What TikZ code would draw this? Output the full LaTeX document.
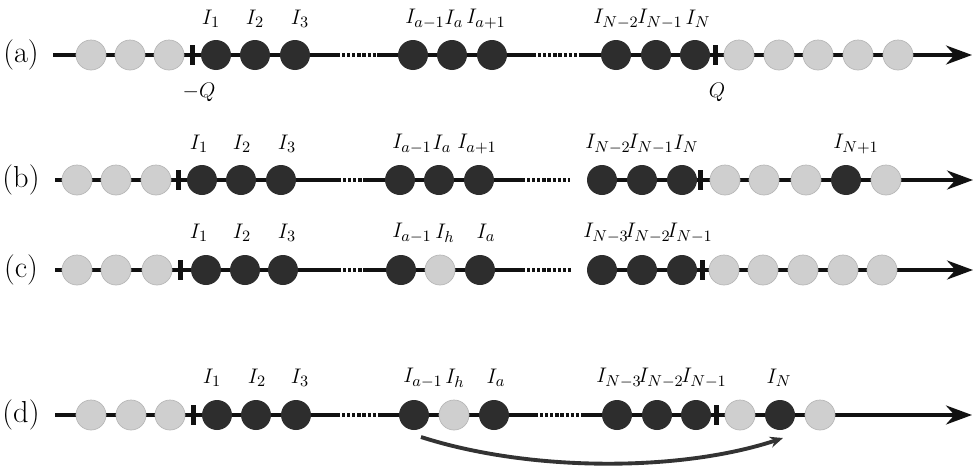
\documentclass[tikz,border=0pt]{standalone}
\usepackage{amsmath}
\usepackage{tikz}
\usetikzlibrary{positioning}
\usetikzlibrary{arrows.meta}

\definecolor{wirecol}{HTML}{111111}
\definecolor{occgray}{HTML}{2D2D2D}
\definecolor{holegray}{HTML}{CFCFCF}
\definecolor{holeedge}{HTML}{B8B8B8}
\definecolor{jumpcol}{HTML}{333333}

\begin{document}
\begin{tikzpicture}[x=0.02cm, y=-0.02cm,
		occ/.style = {circle, fill=occgray, minimum size=0.6cm, inner sep=0pt},
		emp/.style = {circle, fill=holegray, draw=holeedge, line width=0.4pt, minimum size=0.6cm, inner sep=0pt},
		wire/.style = {draw=wirecol, line width=2pt},
		axisline/.style = {wire, -{Stealth[length=0.52cm, width=0.38cm]}},
		dotline/.style = {wire, dash pattern=on 1.8pt off 1.1pt},
		fermi/.style = {fill=wirecol, minimum width=0.1cm, minimum height=0.4cm, inner sep=0pt},
		ilab/.style = {font=\fontsize{12.5}{14}\selectfont, inner sep=0pt},
		rowtag/.style = {font=\LARGE, inner sep=0pt}]
		\useasboundingbox (0,0) rectangle (974,467);
		% (a) ground state
		\coordinate (a-s) at (53,55);
		\coordinate (a-d1) at (337,55);
		\coordinate (a-d2) at (377,55);
		\coordinate (a-d3) at (533,55);
		\coordinate (a-d4) at (580,55);
		\coordinate (a-e) at (972,55);
		\draw[wire] (a-s) -- (a-d1);
		\draw[dotline] (a-d1) -- (a-d2);
		\draw[wire] (a-d2) -- (a-d3);
		\draw[dotline] (a-d3) -- (a-d4);
		\draw[axisline] (a-d4) -- (a-e);
		\foreach \x/\k [count=\i] in {91/emp,130/emp,169/emp,216/occ,255/occ,295/occ,413/occ,452/occ,492/occ,616/occ,656/occ,695/occ,739/emp,779/emp,818/emp,858/emp,898/emp}
			\node[\k] (a\i) at (\x,55) {};
		\node[fermi] (a-f1) at (192,55) {};
		\node[fermi] (a-f2) at (715,55) {};
		\foreach \x/\t [count=\i] in {211/1,255/2,300/3,425/a-1,454/a,486/a+1,616/N-2,660/N-1,698/N}
			\node[ilab] (a-l\i) at (\x,19) {$I_{\t}$};
		\node[ilab] (a-mq) at (199,92) {$-Q$};
		\node[ilab] (a-q) at (717,92) {$Q$};
		\node[rowtag] (a-tag) at (21,55) {(a)};
		% (b) particle excitation
		\coordinate (b-s) at (55,180);
		\coordinate (b-d1) at (338,180);
		\coordinate (b-d2) at (365,180);
		\coordinate (b-d3) at (522,180);
		\coordinate (b-d4) at (570,180);
		\coordinate (b-d5) at (587,180);
		\coordinate (b-e) at (973,180);
		\draw[wire] (b-s) -- (b-d1);
		\draw[dotline] (b-d1) -- (b-d2);
		\draw[wire] (b-d2) -- (b-d3);
		\draw[dotline] (b-d3) -- (b-d4);
		\draw[axisline] (b-d5) -- (b-e);
		\foreach \x/\k [count=\i] in {77/emp,116/emp,156/emp,202/occ,241/occ,281/occ,400/occ,439/occ,479/occ,602/occ,642/occ,682/occ,725/emp,764/emp,806/emp,846/occ,886/emp}
			\node[\k] (b\i) at (\x,180) {};
		\node[fermi] (b-f1) at (178,180) {};
		\node[fermi] (b-f2) at (700,180) {};
		\foreach \x/\t [count=\i] in {199/1,242/2,287/3,412/a-1,442/a,477/a+1,608/N-2,651/N-1,686/N,856/N+1}
			\node[ilab] (b-l\i) at (\x,144) {$I_{\t}$};
		\node[rowtag] (b-tag) at (21,180) {(b)};
		% (c) hole excitation
		\coordinate (c-s) at (55,270);
		\coordinate (c-d1) at (338,270);
		\coordinate (c-d2) at (365,270);
		\coordinate (c-d3) at (522,270);
		\coordinate (c-d4) at (571,270);
		\coordinate (c-d5) at (587,270);
		\coordinate (c-e) at (973,270);
		\draw[wire] (c-s) -- (c-d1);
		\draw[dotline] (c-d1) -- (c-d2);
		\draw[wire] (c-d2) -- (c-d3);
		\draw[dotline] (c-d3) -- (c-d4);
		\draw[axisline] (c-d5) -- (c-e);
		\foreach \x/\k [count=\i] in {77/emp,116/emp,157/emp,206/occ,245/occ,283/occ,401/occ,440/emp,480/occ,602/occ,642/occ,682/occ,724/emp,763/emp,803/emp,843/emp,882/emp}
			\node[\k] (c\i) at (\x,270) {};
		\node[fermi] (c-f1) at (180,270) {};
		\node[fermi] (c-f2) at (702,270) {};
		\foreach \x/\t [count=\i] in {199/1,242/2,287/3,412/a-1,445/h,486/a,606/N-3,648/N-2,690/N-1}
			\node[ilab] (c-l\i) at (\x,233) {$I_{\t}$};
		\node[rowtag] (c-tag) at (21,270) {(c)};
		% (d) particle-hole excitation
		\coordinate (d-s) at (55,415);
		\coordinate (d-d1) at (337,415);
		\coordinate (d-d2) at (378,415);
		\coordinate (d-d3) at (535,415);
		\coordinate (d-d4) at (583,415);
		\coordinate (d-e) at (972,415);
		\draw[wire] (d-s) -- (d-d1);
		\draw[dotline] (d-d1) -- (d-d2);
		\draw[wire] (d-d2) -- (d-d3);
		\draw[dotline] (d-d3) -- (d-d4);
		\draw[axisline] (d-d4) -- (d-e);
		\foreach \x/\k [count=\i] in {91/emp,131/emp,170/emp,217/occ,256/occ,296/occ,414/occ,454/emp,494/occ,617/occ,657/occ,696/occ,740/emp,780/occ,820/emp}
			\node[\k] (d\i) at (\x,415) {};
		\node[fermi] (d-f1) at (193,415) {};
		\node[fermi] (d-f2) at (716,415) {};
		\foreach \x/\t [count=\i] in {212/1,257/2,300/3,423/a-1,455/h,496/a,619/N-3,661/N-2,704/N-1,779/N}
			\node[ilab] (d-l\i) at (\x,378) {$I_{\t}$};
		\node[rowtag] (d-tag) at (21,415) {(d)};
		\coordinate (d-src) at (421,437);
		\coordinate (d-dst) at (783,438);
		\draw[jumpcol, line width=2.2pt, -{Stealth[length=0.26cm, width=0.22cm]}] (d-src) .. controls (530,472) and (680,472) .. (d-dst);
	\end{tikzpicture}
\end{document}
